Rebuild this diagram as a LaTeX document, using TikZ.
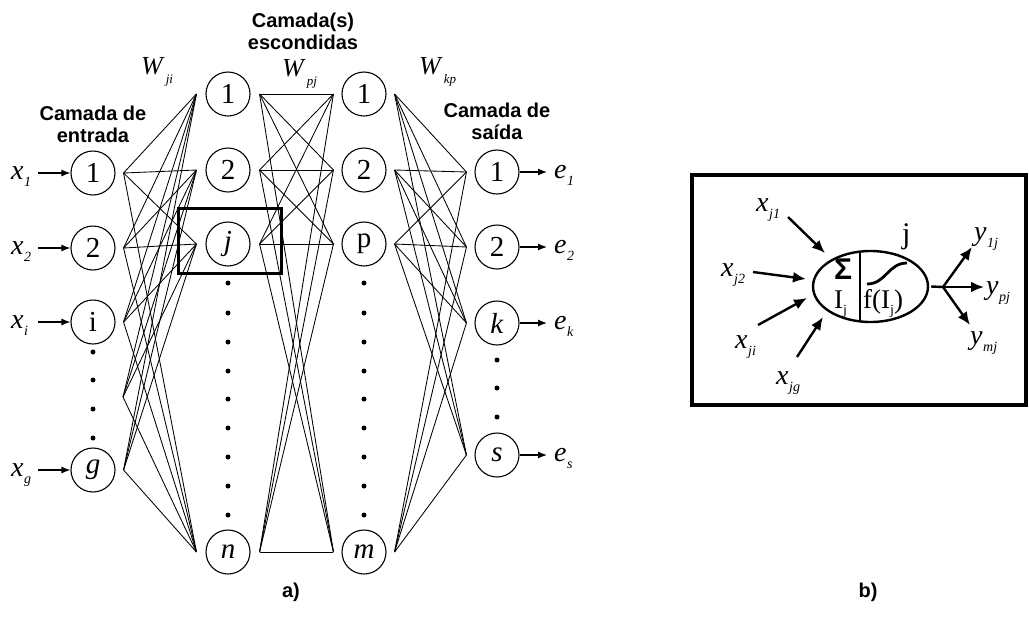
\documentclass[tikz,border=0pt]{standalone}
\usepackage{fontspec}
\setmainfont{Liberation Serif}
\setsansfont{Liberation Sans}
\usetikzlibrary{arrows.meta,shapes.geometric}
\newcommand\isub[2]{\textit{#1}\kern0.5pt\raisebox{-0.28em}{\fontsize{14}{14}\selectfont\textit{#2}}}
\newcommand\wsub[2]{\textit{#1}\kern1pt\raisebox{-0.35em}{\fontsize{13}{13}\selectfont\textit{#2}}}
\begin{document}
\begin{tikzpicture}[x=1pt,y=-1pt,
  neuron/.style={circle, draw, line width=1.1pt, minimum size=44pt, inner sep=0pt, font=\fontsize{29}{30}\selectfont},
  net/.style={line width=0.85pt},
  dotn/.style={circle, fill, inner sep=0pt, minimum size=5pt},
  inarrow/.style={-{Latex[length=9pt,width=7pt]}, line width=1.2pt},
  head/.style={font=\sffamily\bfseries\fontsize{20}{22}\selectfont, align=center, inner sep=0pt},
  lbl/.style={font=\fontsize{28}{30}\selectfont, inner sep=0pt},
  wlbl/.style={font=\fontsize{26}{28}\selectfont, inner sep=0pt, anchor=base west},
  barrow/.style={-{Latex[length=13pt,width=11pt]}, line width=2.4pt},
  capt/.style={font=\sffamily\bfseries\fontsize{20}{22}\selectfont, inner sep=0pt}
]
\useasboundingbox (0,0) rectangle (1029,625);

% ---------- a) ----------
% input layer
\node[neuron] (in1) at (93,173) {1};
\node[neuron] (in2) at (93,248) {2};
\node[neuron] (ini) at (93,322) {i};
\node[neuron] (ing) at (93,470) {\textit{g}};
\foreach \y [count=\i] in {352,380,409,438} \node[dotn] (din\i) at (93,\y) {};

% hidden layer 1
\node[neuron] (h1) at (228,94) {1};
\node[neuron] (h2) at (228,170) {2};
\node[neuron] (hj) at (228,244) {\textit{j}};
\node[neuron] (hn) at (228,552) {\textit{n}};
\foreach \y [count=\i] in {283,313,342,371,399,428,457,486,515} {
  \node[dotn] (dh\i) at (228,\y) {};
  \node[dotn] (dk\i) at (364,\y) {};
}

% hidden layer 2
\node[neuron] (k1) at (364,94) {1};
\node[neuron] (k2) at (364,170) {2};
\node[neuron] (kp) at (364,244) {p};
\node[neuron] (km) at (364,552) {\textit{m}};

% output layer
\node[neuron] (o1) at (497,172) {1};
\node[neuron] (o2) at (497,247) {2};
\node[neuron] (ok) at (497,323) {\textit{k}};
\node[neuron] (os) at (497,455) {\textit{s}};
\foreach \y [count=\i] in {360,388,417} \node[dotn] (dout\i) at (497,\y) {};

% connector end points
\foreach \n in {1,2,i,g} \coordinate (a\n) at ([xshift=8pt]in\n.east);
\coordinate (ad) at (123,397);
\foreach \n in {1,2,j,n} {
  \coordinate (b\n) at ([xshift=-9pt]h\n.west);
  \coordinate (c\n) at ([xshift=9pt]h\n.east);
}
\foreach \n in {1,2,p,m} {
  \coordinate (r\n) at ([xshift=-8pt]k\n.west);
  \coordinate (s\n) at ([xshift=8pt]k\n.east);
}
\foreach \n in {1,2,k,s} \coordinate (t\n) at ([xshift=-8pt]o\n.west);

% connections
\foreach \u in {a1,a2,ai,ad,ag}
  \foreach \v in {b1,b2,bj,bn}
    \draw[net] (\u) -- (\v);
\foreach \u in {c1,c2,cj,cn}
  \foreach \v in {r1,r2,rp,rm}
    \draw[net] (\u) -- (\v);
\foreach \u in {s1,s2,sp,sm}
  \foreach \v in {t1,t2,tk,ts}
    \draw[net] (\u) -- (\v);

% input labels & arrows
\node[lbl, anchor=base west] (x1) at (11,179) {\isub{x}{1}};
\node[lbl, anchor=base west] (x2) at (11,254) {\isub{x}{2}};
\node[lbl, anchor=base west] (xi) at (11,328) {\isub{x}{i}};
\node[lbl, anchor=base west] (xg) at (11,476) {\isub{x}{g}};
\foreach \m in {1,2,i,g}
  \draw[inarrow] (38,0 |- in\m.west) -- (in\m.west);

% output labels & arrows
\node[lbl, anchor=base west] (e1) at (554,178) {\isub{e}{1}};
\node[lbl, anchor=base west] (e2) at (554,253) {\isub{e}{2}};
\node[lbl, anchor=base west] (ek) at (554,329) {\isub{e}{k}};
\node[lbl, anchor=base west] (es) at (554,461) {\isub{e}{s}};
\foreach \n in {1,2,k,s}
  \draw[inarrow] (o\n.east) -- (547,0 |- o\n.east);

% weights
\node[wlbl] (wji) at (141,74) {\wsub{W}{ji}};
\node[wlbl] (wpj) at (282,76) {\wsub{W}{pj}};
\node[wlbl] (wkp) at (419,74) {\wsub{W}{kp}};

% headings
\node[head] (hin) at (93,124) {Camada de\\entrada};
\node[head] (hhid) at (303,31) {Camada(s)\\escondidas};
\node[head] (hout) at (497,121) {Camada de\\saída};

% highlight box around j
\node[draw, line width=3pt, minimum width=103pt, minimum height=65pt, inner sep=0pt] (jbox) at (229.5,240.5) {};

\node[capt] (capa) at (291,592) {a)};

% ---------- b) ----------
\node[draw, line width=3.5pt, minimum width=334pt, minimum height=230pt, inner sep=0pt] (bbox) at (859,290) {};

\node[ellipse, draw, line width=2.4pt, minimum width=115pt, minimum height=71pt, inner sep=0pt] (cell) at (870.5,286.5) {};
\coordinate (divT) at (860,251.6);
\coordinate (divB) at (860,321.4);
\draw[line width=2.2pt] (divT) -- (divB);
\node[inner sep=0pt, font=\sffamily\bfseries\fontsize{30}{30}\selectfont] (sig) at (843,269) {Σ};
\node[lbl, anchor=base west, font=\fontsize{27}{28}\selectfont] (Ij) at (834,308) {I\raisebox{-0.25em}{\fontsize{14}{14}\selectfont j}};
\node[lbl, anchor=base west, font=\fontsize{27}{28}\selectfont] (fIj) at (863,308) {f(I\raisebox{-0.25em}{\fontsize{14}{14}\selectfont j})};
\coordinate (sgA) at (867,284);
\coordinate (sgB) at (907,263);
\draw[line width=2.8pt] (sgA) .. controls (886,284) and (888,263) .. (sgB);
\node[lbl, anchor=base west, font=\fontsize{30}{30}\selectfont] (jlab) at (902,243) {j};

% inputs
\node[lbl, anchor=base west] (xj1) at (756,211) {\isub{x}{j1}};
\node[lbl, anchor=base west] (xj2) at (721,276) {\isub{x}{j2}};
\node[lbl, anchor=base west] (xji) at (735,348) {\isub{x}{ji}};
\node[lbl, anchor=base west] (xjg) at (776,384) {\isub{x}{jg}};
\coordinate (i1s) at (788,217); \coordinate (i1e) at (825,253);
\coordinate (i2s) at (753,272); \coordinate (i2e) at (806,279);
\coordinate (i3s) at (758,325); \coordinate (i3e) at (807,298);
\coordinate (i4s) at (797,357); \coordinate (i4e) at (823,317);
\draw[barrow] (i1s) -- (i1e);
\draw[barrow] (i2s) -- (i2e);
\draw[barrow] (i3s) -- (i3e);
\draw[barrow] (i4s) -- (i4e);

% outputs
\coordinate (br) at (943,287);
\draw[line width=2.4pt] (cell.east) ++(2pt,0) -- (br);
\coordinate (y1e) at (972,247);
\coordinate (y2e) at (984,287);
\coordinate (y3e) at (970,325);
\draw[barrow] (br) -- (y1e);
\draw[barrow] (br) -- (y2e);
\draw[barrow] (br) -- (y3e);
\node[lbl, anchor=base west] (y1j) at (974,240) {\isub{y}{1j}};
\node[lbl, anchor=base west] (ypj) at (986,294) {\isub{y}{pj}};
\node[lbl, anchor=base west] (ymj) at (970,344) {\isub{y}{mj}};

\node[capt] (capb) at (868,592) {b)};
\end{tikzpicture}
\end{document}
